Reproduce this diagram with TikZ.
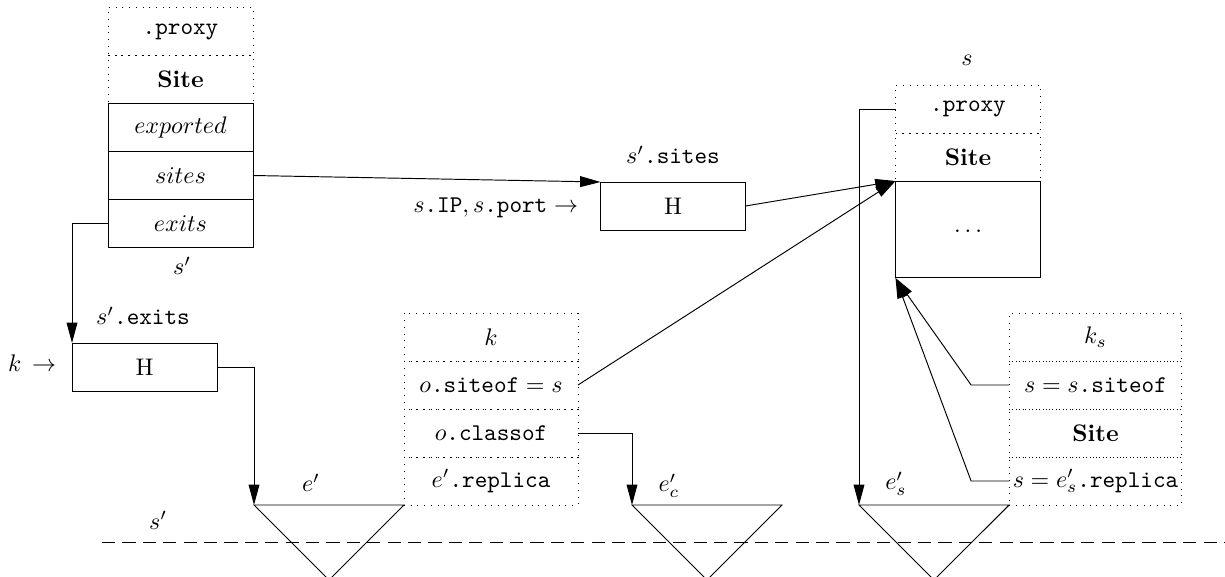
\documentclass[tikz,border=0pt]{standalone}
\usetikzlibrary{arrows.meta}
\begin{document}
\begin{tikzpicture}[x=0.41667pt,y=-0.41667pt,
  cell/.style={minimum height=20pt,inner sep=0pt,outer sep=0pt,anchor=center},
  dotcell/.style={cell,draw,dash pattern=on 0.4pt off 2.4pt},
  solidcell/.style={cell,draw},
  wS/.style={minimum width=60.4pt},
  wK/.style={minimum width=72.5pt},
  wKs/.style={minimum width=72pt},
  conn/.style={-{Triangle[length=8.5pt,width=4.5pt]}},
  lbl/.style={inner sep=0pt,outer sep=0pt,anchor=base}]
\useasboundingbox (0,0) rectangle (1225,577);

% left Site object s'
\node[dotcell,wS] (Lproxy) at (180.5,31.5) {\texttt{.proxy}};
\node[dotcell,wS] (Lsite) at (180.5,79.5) {\textbf{Site}};
\node[solidcell,wS] (Lexp) at (180.5,127.5) {$exported$};
\node[solidcell,wS] (Lsites) at (180.5,175.5) {$sites$};
\node[solidcell,wS] (Lexits) at (180.5,223.5) {$exits$};
\node[lbl] (Lname) at (182,275) {$s'$};

% hash tables
\node[solidcell,wS] (H1) at (673,206) {H};
\node[lbl] (H1name) at (673,164) {$s'$\texttt{.sites}};
\node[lbl,anchor=base east] (H1key) at (578,213) {$s$\texttt{.IP}$,s$\texttt{.port}$\;\rightarrow$};

\node[solidcell,wS] (H2) at (144.5,367) {H};
\node[lbl] (H2name) at (143,325) {$s'$\texttt{.exits}};
\node[lbl,anchor=base east] (H2key) at (56,372) {$k\,\rightarrow$};

% right Site object s
\node[lbl] (Rname) at (967,66) {$s$};
\node[dotcell,wS] (Rproxy) at (968,109) {\texttt{.proxy}};
\node[dotcell,wS] (Rsite) at (968,157) {\textbf{Site}};
\node[solidcell,wS,minimum height=40.4pt] (Rbody) at (968,229.5) {};
\node[lbl] (Rdots) at (968,233) {$\dots$};

% key k
\node[dotcell,wK] (Kk) at (491,337) {$k$};
\node[dotcell,wK] (Ksiteof) at (491,385) {$o$\texttt{.siteof}${}=s$};
\node[dotcell,wK] (Kclass) at (491,433) {$o$\texttt{.classof}};
\node[dotcell,wK] (Krepl) at (491,481) {$e'$\texttt{.replica}};

% key k_s
\node[dotcell,wKs] (Ksk) at (1095.5,337) {$k_s$};
\node[dotcell,wKs] (Kssiteof) at (1095.5,385) {$s=s$\texttt{.siteof}};
\node[dotcell,wKs] (Kssite) at (1095.5,433) {\textbf{Site}};
\node[dotcell,wKs] (Ksrepl) at (1095.5,481) {$s=e'_s$\texttt{.replica}};

% triangles
\coordinate (T1l) at (254,505);
\coordinate (T1a) at (329,580);
\coordinate (T2l) at (632,505);
\coordinate (T2r) at (782,505);
\coordinate (T2a) at (707,580);
\coordinate (T3l) at (859,505);
\coordinate (T3a) at (934,580);
\draw (T1l) -- (Krepl.south west) -- (T1a) -- cycle;
\draw (T2l) -- (T2r) -- (T2a) -- cycle;
\draw (T3l) -- (Ksrepl.south west) -- (T3a) -- cycle;
\node[lbl] (E1) at (311,492) {$e'$};
\node[lbl] (E2) at (669,492) {$e'_c$};
\node[lbl] (E3) at (896,490) {$e'_s$};

% boundary
\node[lbl] (Bname) at (158,529) {$s'$};
\draw[dash pattern=on 5.5pt off 3pt] (102,542) -- (1225,542);

% connectors
\draw[conn] (Lsites.east) -- (H1.north west);
\draw[conn] (H1.east) -- (Rbody.north west);
\draw[conn] (Lexits.west) -| (H2.north west);
\draw[conn] (H2.east) -| (T1l);
\draw[conn] (Kclass.east) -| (T2l);
\draw[conn] (Ksiteof.east) -- (Rbody.north west);
\draw[conn] (Rproxy.west) -| (T3l);
\draw[conn] (Kssiteof.west) -- ++(-38,0) -- (Rbody.south west);
\draw[conn] (Ksrepl.west) -- ++(-38,0) -- (Rbody.south west);
\end{tikzpicture}
\end{document}
